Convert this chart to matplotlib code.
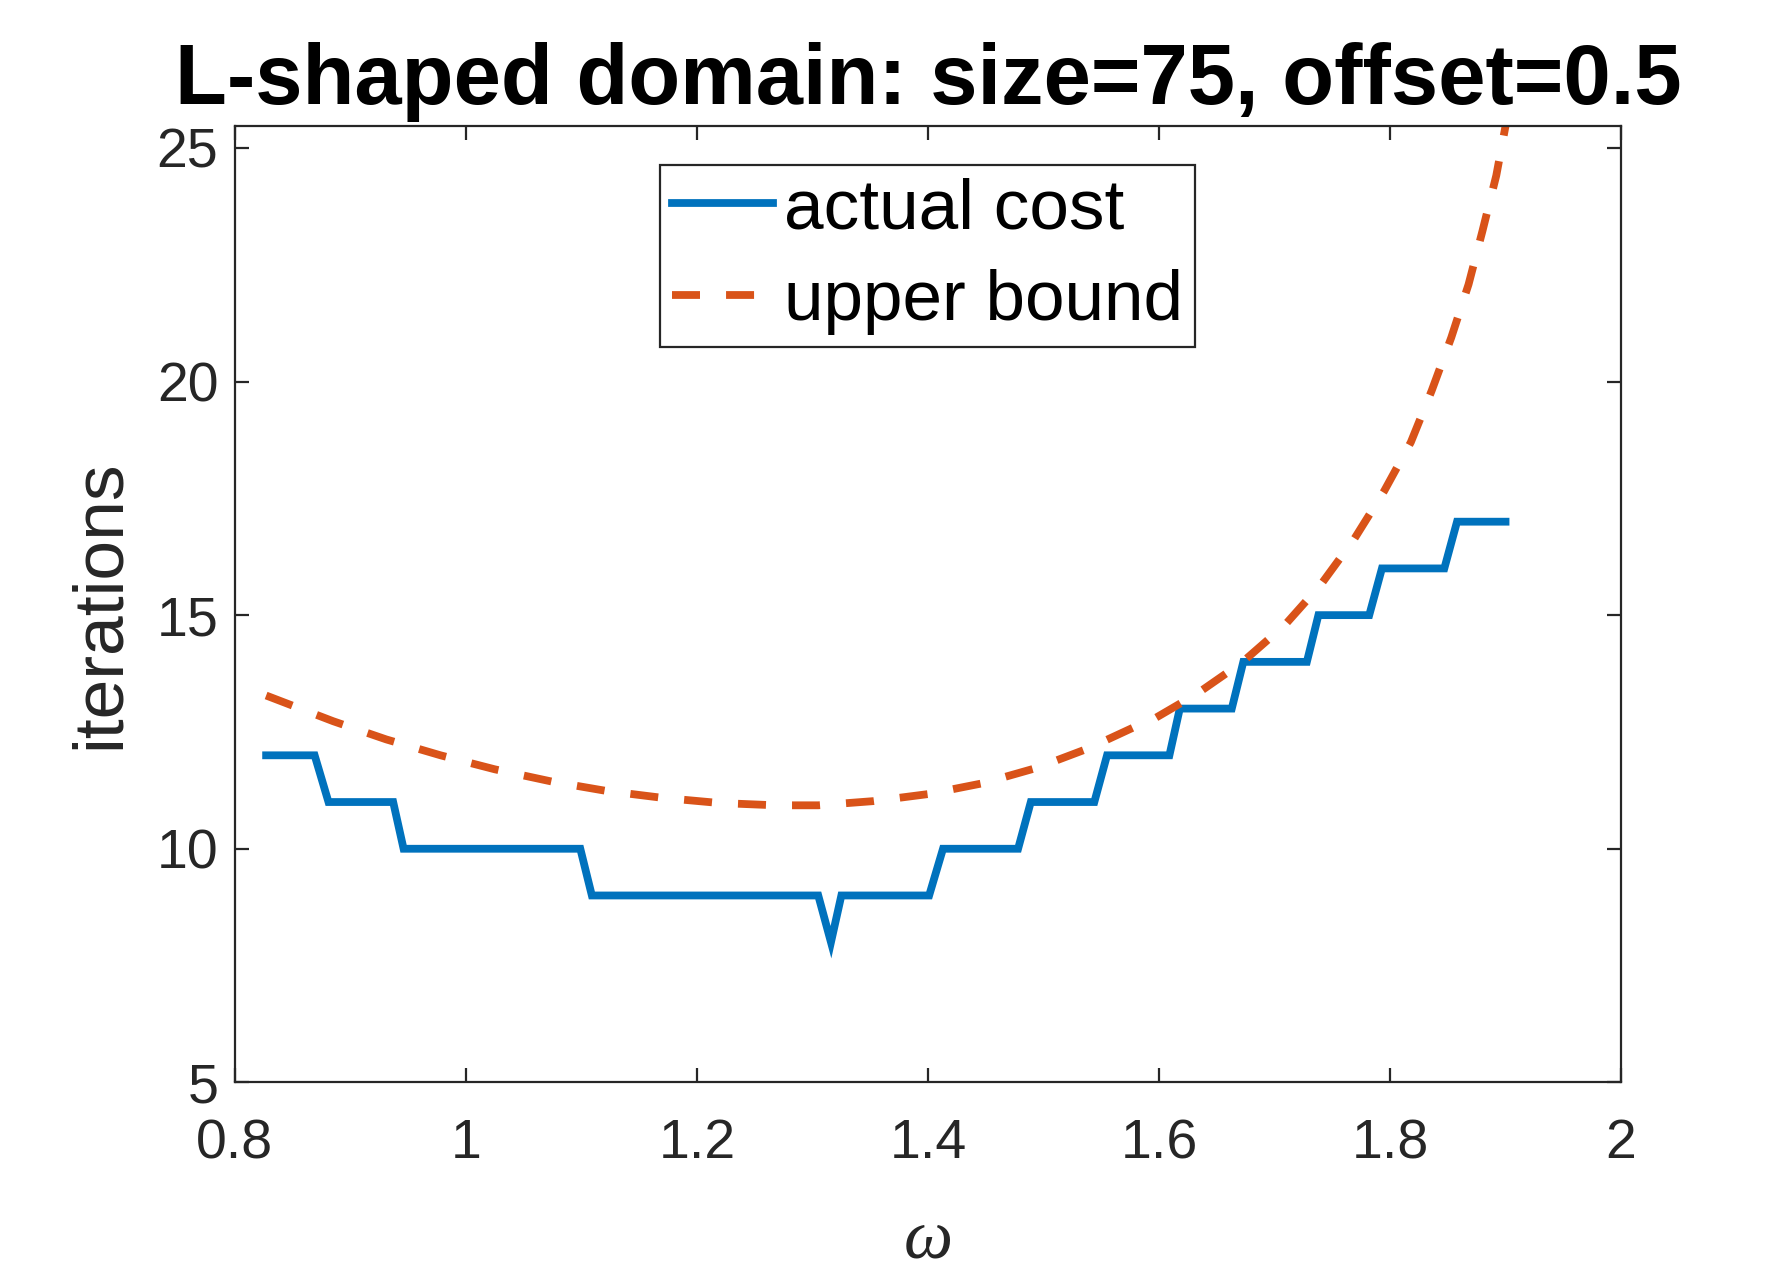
import numpy as np
import matplotlib.pyplot as plt

# actual cost (step corners)
omega_cost = [0.827, 0.869, 0.881, 0.937, 0.946, 1.099, 1.109, 1.305, 1.316, 1.325,
              1.401, 1.413, 1.478, 1.489, 1.544, 1.555, 1.609, 1.618, 1.663, 1.673,
              1.728, 1.738, 1.782, 1.793, 1.847, 1.858, 1.900]
iters_cost = [12, 12, 11, 11, 10, 10, 9, 9, 8, 9,
              9, 10, 10, 11, 11, 12, 12, 13, 13, 14,
              14, 15, 15, 16, 16, 17, 17]

# upper bound curve
omega_bound = [0.827, 0.885, 0.931, 0.978, 1.025, 1.074, 1.121, 1.170, 1.219, 1.268,
               1.305, 1.353, 1.400, 1.447, 1.494, 1.539, 1.580, 1.597, 1.633, 1.672,
               1.709, 1.740, 1.769, 1.795, 1.818, 1.836, 1.853, 1.868, 1.880, 1.892, 1.900]
iters_bound = [13.28, 12.73, 12.34, 12.00, 11.70, 11.44, 11.24, 11.09, 10.98, 10.93,
               10.93, 11.02, 11.17, 11.40, 11.73, 12.15, 12.62, 12.80, 13.32, 13.99,
               14.79, 15.65, 16.63, 17.66, 18.70, 19.80, 20.94, 22.08, 23.22, 24.41, 25.47]

xticks = [0.8, 1, 1.2, 1.4, 1.6, 1.8, 2]
xticklabels = ['0.8', '1', '1.2', '1.4', '1.6', '1.8', '2']
yticks = [5, 10, 15, 20, 25]

plt.rcParams['font.family'] = ['Liberation Sans', 'DejaVu Sans']

fig = plt.figure(figsize=(8.96, 6.4), dpi=200)
ax = fig.add_axes([0.1311, 0.1544, 0.7735, 0.7472])

ax.plot(omega_cost, iters_cost, color='#0072BD', lw=2.8, label='actual cost',
        solid_joinstyle='miter')
ax.plot(omega_bound, iters_bound, color='#D95319', lw=2.8, label='upper bound',
        linestyle=(0, (3.6, 3.35)), dash_capstyle='butt')

ax.set_xlim(0.8, 2)
ax.set_ylim(5, 25.47)
ax.set_xticks(xticks)
ax.set_xticklabels(xticklabels)
ax.set_yticks(yticks)

grey = '#262626'
ax.tick_params(direction='in', length=5, width=0.8, colors=grey, labelsize=20,
               top=True, right=True)
ax.tick_params(axis='x', pad=13)
ax.tick_params(axis='y', pad=6)
for s in ax.spines.values():
    s.set_color(grey)
    s.set_linewidth(0.8)

ax.set_title('L-shaped domain: size=75, offset=0.5', fontsize=30.6, fontweight='bold',
             pad=8)
ax.set_ylabel('iterations', fontsize=25.7, color=grey, labelpad=8)
ax.set_xlabel('ω', fontsize=25, color=grey, family=['Liberation Serif'],
              style='italic', labelpad=14)

leg = ax.legend(loc='upper center', bbox_to_anchor=(0.4995, 0.959), fontsize=25.6,
                frameon=True, fancybox=False, framealpha=1, edgecolor=grey,
                handlelength=1.42, handletextpad=0.16, labelspacing=0.36,
                borderpad=0.17, borderaxespad=0)
leg.get_frame().set_linewidth(0.8)

fig.savefig('out.png', dpi=200)
